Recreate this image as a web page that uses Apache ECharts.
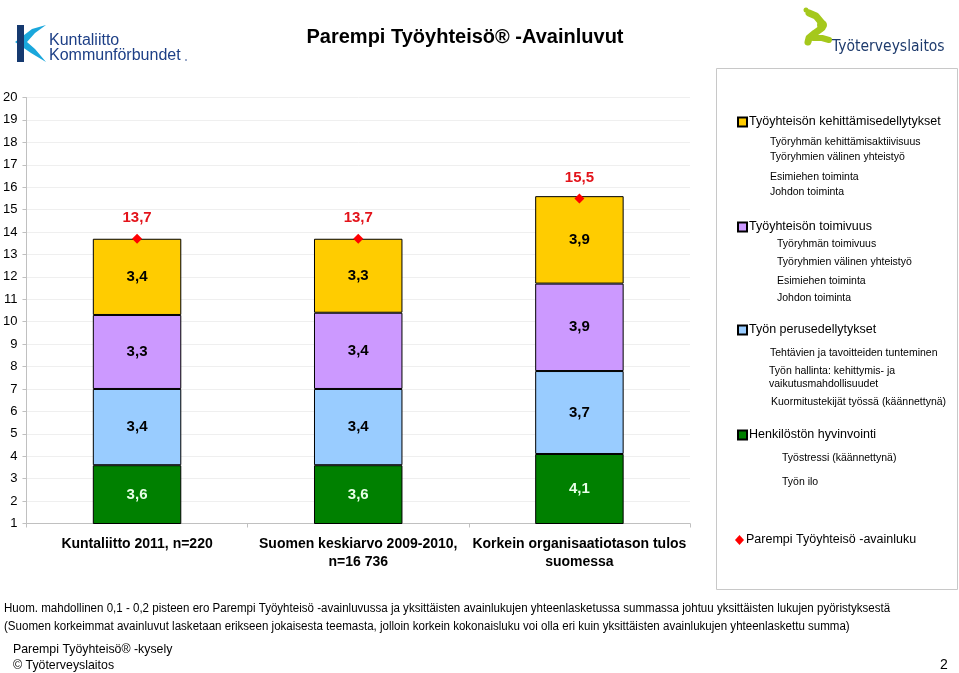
<!DOCTYPE html>
<html><head><meta charset="utf-8">
<script src="https://cdn.jsdelivr.net/npm/echarts@6/dist/echarts.min.js"></script>
<style>html,body{margin:0;padding:0;background:#fff}#c{width:959px;height:673px}</style>
</head><body><div id="c"></div>
<script>
// ---- data ----
const categories = ['Kuntaliitto 2011, n=220', 'Suomen keskiarvo 2009-2010,\nn=16 736', 'Korkein organisaatiotason tulos\nsuomessa'];
const seriesNames = ['Henkilöstön hyvinvointi', 'Työn perusedellytykset', 'Työyhteisön toimivuus', 'Työyhteisön kehittämisedellytykset'];
const henkilostonHyvinvointi = [3.6, 3.6, 4.1];
const tyonPerusedellytykset = [3.4, 3.4, 3.7];
const tyoyhteisonToimivuus = [3.3, 3.4, 3.9];
const kehittamisedellytykset = [3.4, 3.3, 3.9];
const avainlukuName = 'Parempi Työyhteisö -avainluku';
const avainluku = [13.7, 13.7, 15.5];
const yMin = 1, yMax = 20, yStep = 1;
const subItems = [
  ['Työryhmän kehittämisaktiivisuus', 770, 142],
  ['Työryhmien välinen yhteistyö', 770, 157],
  ['Esimiehen toiminta', 770, 177],
  ['Johdon toiminta', 770, 192],
  ['Työryhmän toimivuus', 777, 244],
  ['Työryhmien välinen yhteistyö', 777, 262],
  ['Esimiehen toiminta', 777, 281],
  ['Johdon toiminta', 777, 298],
  ['Tehtävien ja tavoitteiden tunteminen', 770, 353],
  ['Työn hallinta: kehittymis- ja', 769, 371],
  ['vaikutusmahdollisuudet', 769, 384],
  ['Kuormitustekijät työssä (käännettynä)', 771, 402],
  ['Työstressi (käännettynä)', 782, 458],
  ['Työn ilo', 782, 482]
];
const footnote1 = 'Huom. mahdollinen 0,1 - 0,2 pisteen ero Parempi Työyhteisö -avainluvussa ja yksittäisten avainlukujen yhteenlasketussa summassa johtuu yksittäisten lukujen pyöristyksestä';
const footnote2 = '(Suomen korkeimmat avainluvut lasketaan erikseen jokaisesta teemasta, jolloin korkein kokonaisluku voi olla eri kuin yksittäisten avainlukujen yhteenlaskettu summa)';

// ---- chart ----
const FONT = 'Arial, "Liberation Sans", sans-serif';
const comma = v => String(v).replace('.', ',');
const colors = ['#008000', '#99CCFF', '#CC99FF', '#FFCC00'];
const labelColors = ['#e8ffe8', '#000', '#000', '#000'];
const barData = [henkilostonHyvinvointi, tyonPerusedellytykset, tyoyhteisonToimivuus, kehittamisedellytykset];

const barSeries = barData.map((d, i) => ({
  name: seriesNames[i], type: 'bar', stack: 'total', data: d, barWidth: '40%',
  itemStyle: { color: colors[i], borderColor: '#000', borderWidth: 1 },
  label: { show: true, position: 'inside', formatter: p => comma(p.value),
    fontFamily: FONT, fontWeight: 'bold', fontSize: 15, color: labelColors[i] },
  emphasis: { disabled: true }
}));

const legendTops = [434, 329, 226, 121];
const legends = seriesNames.map((n, i) => ({
  data: [n], left: 737, top: legendTops[i] - 5.5, padding: 0, itemWidth: 9, itemHeight: 9,
  icon: 'rect', selectedMode: false,
  textStyle: { fontFamily: FONT, fontSize: 12.5, color: '#000', padding: [0, 0, 0, -3] }
}));
legends.push({
  data: [avainlukuName], left: 735, top: 539 - 5.5, padding: 0, itemWidth: 9, itemHeight: 10,
  icon: 'diamond', selectedMode: false,
  textStyle: { fontFamily: FONT, fontSize: 12.5, color: '#000', padding: [0, 0, 0, -3] }
});

const graphics = [
  // title
  { type: 'text', x: 465, y: 37, style: { text: 'Parempi Työyhteisö® -Avainluvut', font: 'bold 20px ' + FONT, fill: '#000', align: 'center', verticalAlign: 'middle' } },
  // legend box
  { type: 'rect', shape: { x: 716.5, y: 68.5, width: 241, height: 521 }, style: { fill: 'none', stroke: '#c8c8c8', lineWidth: 1 }, z: 0 },
  // Kuntaliitto logo
  { type: 'polygon', shape: { points: [[46,25],[32,29],[15,42],[31,53],[46,62],[35,49],[27,42],[35,33]] }, style: { fill: '#1aa7dc' } },
  { type: 'rect', shape: { x: 17, y: 25, width: 7, height: 37 }, style: { fill: '#15396f' } },
  { type: 'polygon', shape: { points: [[24,36],[27,42],[24,47]] }, style: { fill: '#1aa7dc' } },
  { type: 'text', x: 49, y: 41, style: { text: 'Kuntaliitto', font: '16px ' + FONT, fill: '#1d3f86', verticalAlign: 'middle' } },
  { type: 'text', x: 49, y: 56, style: { text: 'Kommunförbundet', font: '16px ' + FONT, fill: '#1d3f86', verticalAlign: 'middle' } },
  { type: 'circle', shape: { cx: 186, cy: 60, r: 0.8 }, style: { fill: '#1d3f86' } },
  // Työterveyslaitos logo
  { type: 'circle', shape: { cx: 806, cy: 10, r: 2.5 }, style: { fill: '#a5c81c' } },
  { type: 'polyline', shape: { points: [[809,13],[816,16],[821,22],[822,28],[815,33],[809,38],[808,42]] }, style: { stroke: '#a5c81c', lineWidth: 7, lineCap: 'round', lineJoin: 'round', fill: 'none' } },
  { type: 'polyline', shape: { points: [[813,38],[822,38],[829,40]] }, style: { stroke: '#a5c81c', lineWidth: 6, lineCap: 'round', lineJoin: 'round', fill: 'none' } },
  { type: 'circle', shape: { cx: 822, cy: 25, r: 5 }, style: { fill: '#a5c81c' } },
  { type: 'text', x: 832, y: 47, style: { text: 'Työterveyslaitos', font: '16px "DejaVu Sans", ' + FONT, fill: '#1e3b6d', verticalAlign: 'middle' }, scaleX: 0.87 },
  // footnotes
  { type: 'text', x: 4, y: 609, scaleX: 0.962, style: { text: footnote1, font: '12px ' + FONT, fill: '#000', verticalAlign: 'middle' } },
  { type: 'text', x: 4, y: 627, scaleX: 0.962, style: { text: footnote2, font: '12px ' + FONT, fill: '#000', verticalAlign: 'middle' } },
  { type: 'text', x: 13, y: 649, scaleX: 0.95, style: { text: 'Parempi Työyhteisö® -kysely', font: '13px ' + FONT, fill: '#000', verticalAlign: 'middle' } },
  { type: 'text', x: 13, y: 665, scaleX: 0.95, style: { text: '© Työterveyslaitos', font: '13px ' + FONT, fill: '#000', verticalAlign: 'middle' } },
  { type: 'text', x: 944, y: 665, style: { text: '2', font: '14px ' + FONT, fill: '#000', align: 'center', verticalAlign: 'middle' } }
];
subItems.forEach(s => graphics.push({ type: 'text', x: s[1], y: s[2], style: { text: s[0], font: '10.5px ' + FONT, fill: '#000', verticalAlign: 'middle' } }));

const chart = echarts.init(document.getElementById('c'), null, { renderer: 'canvas' });
chart.setOption({
  backgroundColor: '#fff',
  animation: false,
  grid: { left: 25, right: 269, top: 97.5, bottom: 149.5, containLabel: false },
  legend: legends,
  xAxis: {
    type: 'category', data: categories, boundaryGap: true,
    axisLine: { lineStyle: { color: '#c0c0c0' } },
    axisTick: { show: true, length: 4, lineStyle: { color: '#c0c0c0' } },
    axisLabel: { interval: 0, margin: 12, fontFamily: FONT, fontWeight: 'bold', fontSize: 14, color: '#000', lineHeight: 18 }
  },
  yAxis: {
    type: 'value', min: yMin, max: yMax, interval: yStep,
    axisLine: { show: true, lineStyle: { color: '#c0c0c0' } },
    axisTick: { show: true, length: 4, lineStyle: { color: '#c0c0c0' } },
    splitLine: { show: true, lineStyle: { color: '#efefef' } },
    axisLabel: { margin: 9, fontFamily: FONT, fontSize: 13, color: '#000' }
  },
  series: barSeries.concat([{
    name: avainlukuName, type: 'line', data: avainluku,
    symbol: 'diamond', symbolSize: 10, z: 5,
    lineStyle: { width: 0, opacity: 0 },
    itemStyle: { color: '#ff0000' },
    label: { show: true, position: 'top', distance: 8, formatter: p => comma(p.value),
      fontFamily: FONT, fontWeight: 'bold', fontSize: 15, color: '#e3141b' },
    emphasis: { disabled: true }
  }]),
  graphic: graphics
});
</script></body></html>
